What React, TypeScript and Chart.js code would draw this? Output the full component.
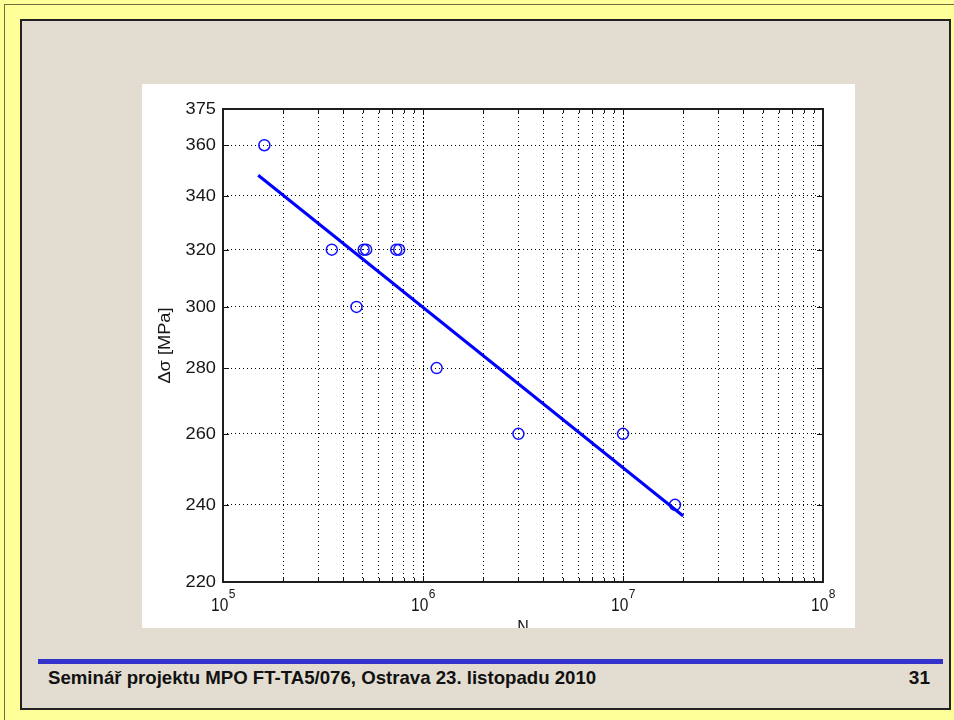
import React, { useEffect, useRef } from "react";
import { Chart, registerables } from "chart.js";

Chart.register(...registerables);

// Fatigue test results: number of cycles to failure and stress range
const cyclesN = [1.61e5, 3.5e5, 4.65e5, 5.05e5, 5.2e5, 7.35e5, 7.6e5, 1.17e6, 3.0e6, 1.0e7, 1.82e7];
const stressRange = [360, 320, 300, 320, 320, 320, 320, 280, 260, 260, 240];

// Regression (S-N) line end points
const fitN = [1.5e5, 2.0e7];
const fitStress = [348, 237];

// Axes
const xDecades = [1e5, 1e6, 1e7, 1e8];
const xExponents = ["5", "6", "7", "8"];
const xMinorFactors = [1, 2, 3, 4, 5, 6, 7, 8, 9];
const yTicks = [220, 240, 260, 280, 300, 320, 340, 360, 375];
const xTitle = "N";
const yTitle = "Δσ [MPa]";

// Slide footer
const footerText = "Seminář projektu MPO FT-TA5/076, Ostrava 23. listopadu 2010";
const pageNumber = "31";

const xGridValues: number[] = [];
xDecades.slice(0, -1).forEach((d) => xMinorFactors.forEach((f) => xGridValues.push(f * d)));
xGridValues.push(xDecades[xDecades.length - 1]);

const isDecade = (v: number) => xDecades.some((d) => Math.abs(v / d - 1) < 1e-9);

const FONT = "'Liberation Sans', Arial, Helvetica, sans-serif";

function stretchedText(
  ctx: CanvasRenderingContext2D,
  text: string,
  x: number,
  y: number,
  sx: number,
  align: CanvasTextAlign
) {
  ctx.save();
  ctx.translate(x, y);
  ctx.scale(sx, 1);
  ctx.textAlign = align;
  ctx.fillText(text, 0, 0);
  ctx.restore();
}

// Box, inward tick marks, tick labels and axis titles in the MATLAB style
const matlabAxes = {
  id: "matlabAxes",
  beforeDatasetsDraw(chart: any) {
    const { ctx, chartArea: a, scales } = chart;
    const xs = scales.x;
    const ys = scales.y;
    ctx.save();

    // inward tick marks
    ctx.strokeStyle = "#111";
    ctx.lineWidth = 1;
    ctx.beginPath();
    xGridValues.forEach((v) => {
      const px = Math.round(xs.getPixelForValue(v)) + 0.5;
      const len = isDecade(v) ? 6 : 4;
      ctx.moveTo(px, a.bottom);
      ctx.lineTo(px, a.bottom - len);
      ctx.moveTo(px, a.top);
      ctx.lineTo(px, a.top + len);
    });
    yTicks.forEach((v) => {
      const py = Math.round(ys.getPixelForValue(v)) + 0.5;
      ctx.moveTo(a.left, py);
      ctx.lineTo(a.left + 6, py);
      ctx.moveTo(a.right, py);
      ctx.lineTo(a.right - 6, py);
    });
    ctx.stroke();

    // box
    ctx.strokeStyle = "#1e1e1e";
    ctx.lineWidth = 2;
    ctx.strokeRect(a.left, a.top, a.right - a.left, a.bottom - a.top);

    ctx.fillStyle = "#161616";

    // y tick labels
    ctx.font = `16px ${FONT}`;
    ctx.textBaseline = "middle";
    yTicks.forEach((v) => {
      const py = ys.getPixelForValue(v);
      stretchedText(ctx, String(v), a.left - 7, py + 0.5, 1.14, "right");
    });

    // x tick labels: 10 with a superscript exponent
    ctx.textBaseline = "alphabetic";
    xDecades.forEach((d, i) => {
      const px = xs.getPixelForValue(d);
      ctx.font = `18px ${FONT}`;
      const wBase = ctx.measureText("10").width * 0.86;
      ctx.font = `12px ${FONT}`;
      const wExp = ctx.measureText(xExponents[i]).width;
      const start = px - (wBase + wExp) / 2;
      ctx.font = `18px ${FONT}`;
      stretchedText(ctx, "10", start, a.bottom + 29, 0.86, "left");
      ctx.font = `12px ${FONT}`;
      stretchedText(ctx, xExponents[i], start + wBase + 0.5, a.bottom + 16, 1, "left");
    });

    // axis titles
    ctx.font = `16px ${FONT}`;
    ctx.textBaseline = "top";
    ctx.textAlign = "center";
    ctx.fillText(xTitle, (a.left + a.right) / 2, a.bottom + 38);

    ctx.save();
    ctx.translate(a.left - 57, (a.top + a.bottom) / 2);
    ctx.rotate(-Math.PI / 2);
    ctx.textBaseline = "middle";
    ctx.scale(1.14, 1);
    ctx.textAlign = "center";
    ctx.fillText(yTitle, 0, 0);
    ctx.restore();

    ctx.restore();
  },
};

function SNChart() {
  const canvasRef = useRef<HTMLCanvasElement>(null);

  useEffect(() => {
    const canvas = canvasRef.current;
    if (!canvas) return;
    const chart = new Chart(canvas, {
      type: "scatter",
      data: {
        datasets: [
          {
            label: "fit",
            data: fitN.map((n, i) => ({ x: n, y: fitStress[i] })),
            showLine: true,
            borderColor: "#0000ff",
            borderWidth: 3,
            pointRadius: 0,
            fill: false,
          },
          {
            label: "tests",
            data: cyclesN.map((n, i) => ({ x: n, y: stressRange[i] })),
            showLine: false,
            pointStyle: "circle",
            pointRadius: 5.5,
            borderColor: "#1010ff",
            backgroundColor: "rgba(0,0,0,0)",
            borderWidth: 1.5,
          },
        ],
      },
      options: {
        animation: false,
        responsive: false,
        devicePixelRatio: 1,
        layout: { padding: { left: 81, right: 32, top: 25, bottom: 46 } },
        plugins: { legend: { display: false }, tooltip: { enabled: false } },
        scales: {
          x: {
            type: "logarithmic",
            min: xDecades[0],
            max: xDecades[xDecades.length - 1],
            afterBuildTicks: (s: any) => {
              s.ticks = xGridValues.map((v) => ({ value: v, major: isDecade(v) }));
            },
            ticks: { display: false },
            grid: { color: "#000", lineWidth: 1, drawTicks: false },
            border: {
              display: false,
              dash: (c: any) => (c.tick && isDecade(c.tick.value) ? [2, 2] : [1, 3]),
            },
          },
          y: {
            type: "logarithmic",
            min: yTicks[0],
            max: yTicks[yTicks.length - 1],
            afterBuildTicks: (s: any) => {
              s.ticks = yTicks.map((v) => ({ value: v }));
            },
            ticks: { display: false },
            grid: { color: "#000", lineWidth: 1, drawTicks: false },
            border: { display: false, dash: [1, 3] },
          },
        },
      },
      plugins: [matlabAxes],
    });
    return () => chart.destroy();
  }, []);

  return <canvas ref={canvasRef} width={713} height={544} style={{ display: "block" }} />;
}

export default function App() {
  return (
    <div
      style={{
        position: "absolute",
        left: 0,
        top: 0,
        width: 954,
        height: 720,
        overflow: "hidden",
        background: "#ffff99",
        fontFamily: FONT,
      }}
    >
      {/* outer slide edge */}
      <div
        style={{
          position: "absolute",
          left: 4,
          top: 4,
          width: 980,
          height: 740,
          border: "1px solid #6f6f3c",
        }}
      />
      {/* content panel */}
      <div
        style={{
          position: "absolute",
          left: 20,
          top: 19,
          width: 927,
          height: 687,
          background: "#e3ddd1",
          border: "2px solid #222",
        }}
      />
      {/* figure */}
      <div style={{ position: "absolute", left: 142, top: 84, width: 713, height: 544, background: "#fff" }}>
        <SNChart />
      </div>
      {/* footer */}
      <div style={{ position: "absolute", left: 38, top: 659, width: 905, height: 5, background: "#3333cc" }} />
      <div
        style={{
          position: "absolute",
          left: 48,
          top: 668,
          fontSize: 19,
          lineHeight: 1,
          fontWeight: "bold",
          color: "#111",
          whiteSpace: "nowrap",
          transform: "scaleX(0.98)",
          transformOrigin: "left top",
        }}
      >
        {footerText}
      </div>
      <div
        style={{
          position: "absolute",
          right: 24,
          top: 668,
          fontSize: 19,
          lineHeight: 1,
          fontWeight: "bold",
          color: "#111",
        }}
      >
        {pageNumber}
      </div>
    </div>
  );
}
